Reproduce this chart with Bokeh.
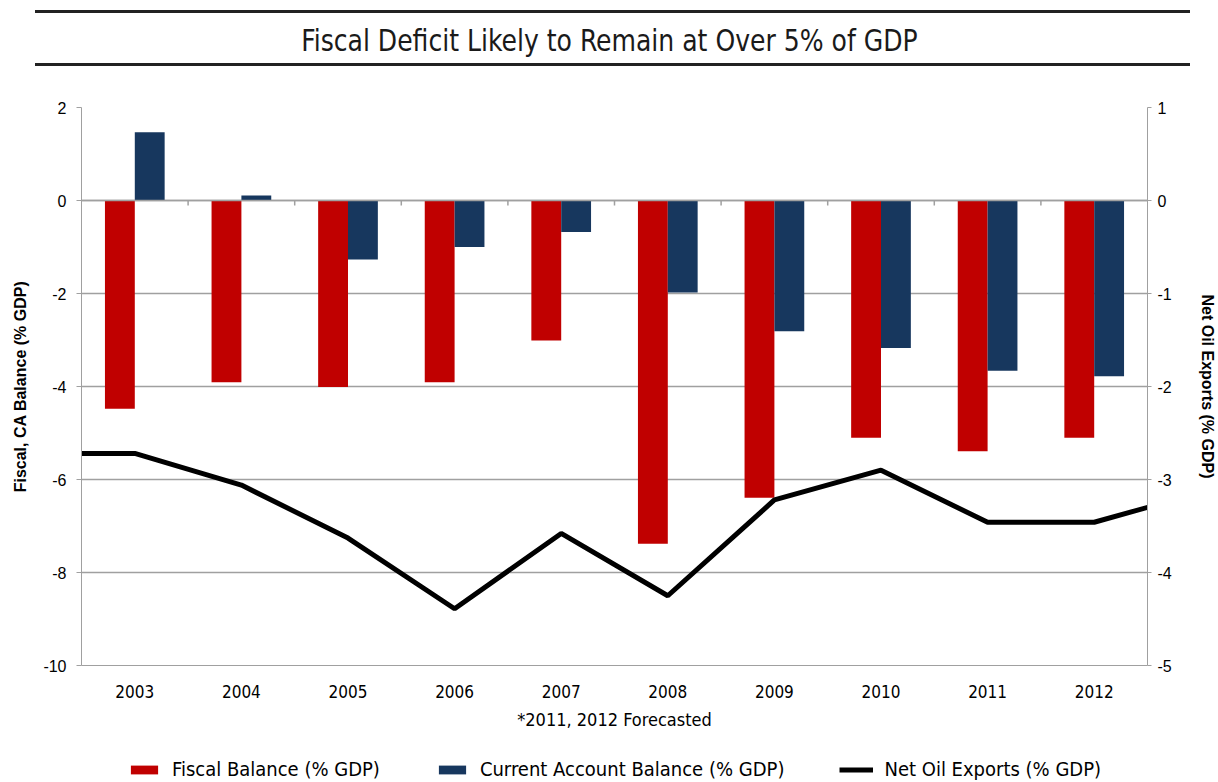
from bokeh.plotting import figure
from bokeh.layouts import column
from bokeh.models import (Range1d, LinearAxis, FixedTicker, Span, Legend, LegendItem,
                          Div, ColumnDataSource, PrintfTickFormatter)
from bokeh.transform import dodge
from bokeh.embed import file_html
from bokeh.resources import INLINE

# ---- data ----
years = [2003, 2004, 2005, 2006, 2007, 2008, 2009, 2010, 2011, 2012]
fiscal_balance = [-4.48, -3.91, -4.01, -3.91, -3.01, -7.38, -6.39, -5.10, -5.39, -5.10]
current_account = [1.47, 0.11, -1.27, -1.00, -0.68, -1.98, -2.81, -3.17, -3.66, -3.78]
oil_years = [2002, 2003, 2004, 2005, 2006, 2007, 2008, 2009, 2010, 2011, 2012, 2013]
net_oil_exports = [-2.72, -2.72, -3.06, -3.63, -4.39, -3.58, -4.25, -3.22, -2.90, -3.46, -3.46, -3.14]
left_ticks = [-10, -8, -6, -4, -2, 0, 2]
right_ticks = [-5, -4, -3, -2, -1, 0, 1]
boundaries = [y + 0.5 for y in years[:-1]]
series_names = ["Fiscal Balance (% GDP)", "Current Account Balance (% GDP)", "Net Oil Exports (% GDP)"]

TITLE = "Fiscal Deficit Likely to Remain at Over 5% of GDP"
NARROW = "'Liberation Sans Narrow', 'DejaVu Sans Condensed', Roboto"
SANS = "Liberation Sans"
GRID = "#a0a0a0"
RED = "#C00000"
NAVY = "#17375E"

HEADER_H = 80
LEGEND_H = 42
MAIN_H = 782 - HEADER_H - LEGEND_H
TOP_B = 107 - HEADER_H
FRAME_H = 558

header = Div(
    text=(
        '<div style="position:relative;width:1218px;height:%dpx;">'
        '<div style="position:absolute;left:35px;top:10px;width:1155px;height:3px;background:#222;"></div>'
        '<div style="position:absolute;left:0;top:20px;width:1218px;text-align:center;'
        "font-family:'Liberation Sans Narrow','DejaVu Sans Condensed',Roboto,sans-serif;"
        'font-size:31px;line-height:40px;color:#1a1a1a;">'
        '<span style="display:inline-block;transform:scaleX(0.9);transform-origin:center;">%s</span></div>'
        '<div style="position:absolute;left:35px;top:63px;width:1155px;height:3px;background:#222;"></div>'
        '</div>' % (HEADER_H, TITLE)
    ),
    width=1218, height=HEADER_H, margin=0,
)

src = ColumnDataSource(dict(year=years, fiscal=fiscal_balance, ca=current_account))

p = figure(width=1218, height=MAIN_H, output_backend="svg", toolbar_location=None,
           x_range=Range1d(years[0] - 0.5, years[-1] + 0.5), y_range=Range1d(-10, 2),
           min_border_left=81, min_border_right=68, min_border_top=TOP_B,
           min_border_bottom=MAIN_H - TOP_B - FRAME_H, margin=0)
p.outline_line_color = None
p.extra_y_ranges = {"oil": Range1d(-5, 1)}

# bars
r_fiscal = p.vbar(x=dodge("year", -0.14, range=p.x_range), top="fiscal", bottom=0, width=0.28,
                  source=src, fill_color=RED, line_color=None)
r_ca = p.vbar(x=dodge("year", 0.14, range=p.x_range), top="ca", bottom=0, width=0.28,
              source=src, fill_color=NAVY, line_color=None)

# zero (category) axis line with small ticks between categories
p.add_layout(Span(location=0, dimension="width", line_color=GRID, line_width=1.5))
p.segment(x0=boundaries, x1=boundaries, y0=[0] * len(boundaries), y1=[-0.11] * len(boundaries),
          line_color=GRID, line_width=1.5)

# net oil exports line on right axis
r_oil = p.line(oil_years, net_oil_exports, y_range_name="oil", line_color="black", line_width=5)

# axes
p.xaxis.ticker = FixedTicker(ticks=years)
p.xaxis.major_tick_line_color = None
p.xaxis.minor_tick_line_color = None
p.xaxis.axis_line_color = GRID
p.xaxis.major_label_standoff = 13
p.xaxis.major_label_text_font = NARROW
p.xaxis.major_label_text_font_size = "17px"
p.xaxis.major_label_text_color = "black"
p.xaxis.axis_label = "*2011, 2012 Forecasted"
p.xaxis.axis_label_text_font = NARROW
p.xaxis.axis_label_text_font_style = "normal"
p.xaxis.axis_label_text_font_size = "18px"
p.xaxis.axis_label_text_color = "black"
p.xaxis.axis_label_standoff = 8

p.yaxis.ticker = FixedTicker(ticks=left_ticks)
p.yaxis.formatter = PrintfTickFormatter(format="%d")
p.yaxis.minor_tick_line_color = None
p.yaxis.major_tick_in = 0
p.yaxis.major_tick_out = 5
p.yaxis.major_tick_line_color = GRID
p.yaxis.axis_line_color = GRID
p.yaxis.major_label_text_font = SANS
p.yaxis.major_label_text_font_size = "16px"
p.yaxis.major_label_text_color = "black"
p.yaxis.major_label_standoff = 10
p.yaxis.axis_label = "Fiscal, CA Balance (% GDP)"
p.yaxis.axis_label_text_font = SANS
p.yaxis.axis_label_text_font_style = "bold"
p.yaxis.axis_label_text_font_size = "16px"
p.yaxis.axis_label_text_color = "black"
p.yaxis.axis_label_standoff = 11

right = LinearAxis(y_range_name="oil", ticker=FixedTicker(ticks=right_ticks),
                   formatter=PrintfTickFormatter(format="%d"))
right.minor_tick_line_color = None
right.major_tick_in = 0
right.major_tick_out = 4
right.major_tick_line_color = GRID
right.axis_line_color = GRID
right.major_label_text_font = SANS
right.major_label_text_font_size = "16px"
right.major_label_text_color = "black"
right.major_label_standoff = 6
right.axis_label = "Net Oil Exports (% GDP)"
right.axis_label_text_font = SANS
right.axis_label_text_font_style = "bold"
right.axis_label_text_font_size = "16px"
right.axis_label_text_color = "black"
right.axis_label_standoff = 24
p.add_layout(right, "right")

p.xgrid.grid_line_color = None
p.ygrid.ticker = FixedTicker(ticks=left_ticks)
p.ygrid.grid_line_color = GRID
p.ygrid.grid_line_width = 1.5

# legend strip (its own small canvas, frame aligned with the chart's frame)
lf = figure(width=1218, height=LEGEND_H, output_backend="svg", toolbar_location=None,
            x_range=Range1d(0, 1), y_range=Range1d(0, 1),
            x_axis_location=None, y_axis_location=None, min_border=0, margin=0)
lf.outline_line_color = None
lf.xgrid.grid_line_color = None
lf.ygrid.grid_line_color = None
# proxy glyphs kept outside the visible range; only their legend swatches show
lg_fiscal = lf.vbar(x=[-5], top=[-5], bottom=[-6], width=0.1, fill_color=RED, line_color=None)
lg_ca = lf.vbar(x=[-5], top=[-5], bottom=[-6], width=0.1, fill_color=NAVY, line_color=None)
lg_oil = lf.line(x=[-6, -5], y=[-5, -5], line_color="black", line_width=5)
legend = Legend(items=[LegendItem(label=series_names[0], renderers=[lg_fiscal]),
                       LegendItem(label=series_names[1], renderers=[lg_ca]),
                       LegendItem(label=series_names[2], renderers=[lg_oil])],
                orientation="horizontal", location=(46, 1),
                glyph_width=34, glyph_height=11, label_standoff=11, spacing=55,
                padding=0, margin=0, border_line_color=None, background_fill_alpha=0,
                label_text_font=NARROW, label_text_font_size="20px", label_text_color="black")
lf.add_layout(legend, "center")

layout = column(header, p, lf, spacing=0, margin=0)
open("out.html", "w").write(file_html(layout, INLINE))
